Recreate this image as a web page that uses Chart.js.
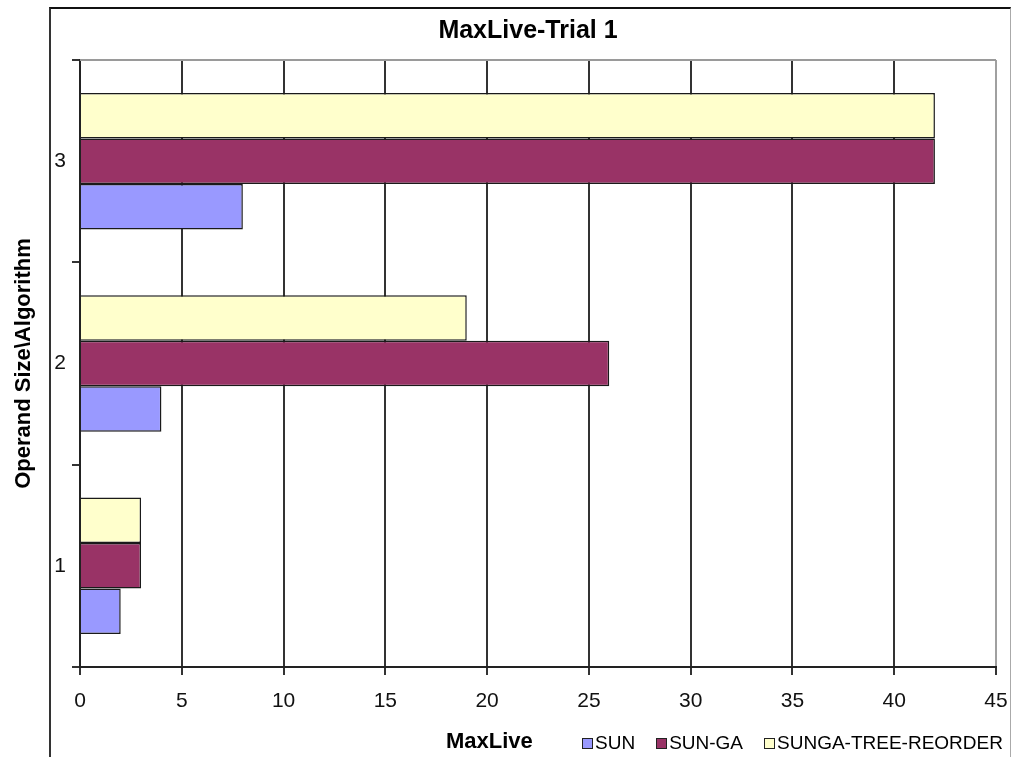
<!DOCTYPE html>
<html lang="en">
<head>
<meta charset="UTF-8">
<title>MaxLive-Trial 1</title>
<script src="https://cdn.jsdelivr.net/npm/chart.js"></script>
<style>
  body { margin: 0; background: #fff; font-family: "Liberation Sans", Arial, sans-serif; color: #000; }
  .wrap { position: relative; width: 1011px; height: 757px; overflow: hidden; }
  .frame { position: absolute; left: 49px; top: 7px; width: 959px; height: 800px;
           border-left: 2px solid #333; border-top: 2px solid #111; border-right: 1px solid #aaa; }
  #chart { position: absolute; left: 0; top: 0; }
  .title { position: absolute; left: 0; top: 14px; width: 1056px; text-align: center;
           font-weight: bold; font-size: 25px; line-height: 30px; }
  .xtitle { position: absolute; left: 446px; top: 729px; font-weight: bold; font-size: 22px; line-height: 24px; }
  .legend { position: absolute; left: 582px; top: 731px; display: flex; align-items: center;
            font-size: 19px; line-height: 24px; white-space: nowrap; width: max-content; }
  .legend span.item { display: flex; align-items: center; margin-right: 21px; }
  .legend span.box { width: 9px; height: 9px; border: 1px solid #222; margin-right: 2px; flex: none; }
</style>
</head>
<body>
<div class="wrap">
  <div class="frame"></div>
  <canvas id="chart" width="1011" height="757"></canvas>
  <div class="title">MaxLive-Trial 1</div>
  <div class="xtitle">MaxLive</div>
  <div class="legend" id="legend"></div>
</div>

<script>
  // categories listed top to bottom
  const categories = ['3', '2', '1'];
  const seriesNames = ['SUN', 'SUN-GA', 'SUNGA-TREE-REORDER'];
  const seriesColors = ['#9999FF', '#993366', '#FFFFCC'];
  const sunValues = [8, 4, 2];
  const sunGaValues = [42, 26, 3];
  const treeReorderValues = [42, 19, 3];
  const xMin = 0;
  const xMax = 45;
  const xStep = 5;

  const seriesValues = [sunValues, sunGaValues, treeReorderValues];

  // legend in series order
  const legend = document.getElementById('legend');
  seriesNames.forEach(function (name, i) {
    const item = document.createElement('span');
    item.className = 'item';
    const box = document.createElement('span');
    box.className = 'box';
    box.style.background = seriesColors[i];
    item.appendChild(box);
    item.appendChild(document.createTextNode(name));
    legend.appendChild(item);
  });

  // gray line along the top of the plot area
  const plotBorder = {
    id: 'plotBorder',
    beforeDatasetsDraw(chart) {
      const { ctx, chartArea: a } = chart;
      ctx.save();
      ctx.strokeStyle = '#9a9a9a';
      ctx.lineWidth = 2;
      ctx.beginPath();
      ctx.moveTo(a.left, a.top);
      ctx.lineTo(a.right, a.top);
      ctx.stroke();
      ctx.restore();
    }
  };

  // last series first so it sits on top inside each group
  const datasets = [2, 1, 0].map(function (i) {
    return {
      label: seriesNames[i],
      data: seriesValues[i],
      backgroundColor: seriesColors[i],
      borderColor: '#1a1a1a',
      borderWidth: 1.5,
      categoryPercentage: 0.675,
      barPercentage: 1
    };
  });

  const tickFont = { family: '"Liberation Sans", Arial, sans-serif', size: 21 };

  new Chart(document.getElementById('chart'), {
    type: 'bar',
    data: { labels: categories, datasets: datasets },
    plugins: [plotBorder],
    options: {
      indexAxis: 'y',
      responsive: false,
      animation: false,
      layout: { padding: { top: 60, right: 0, bottom: 0, left: 0 } },
      plugins: {
        legend: { display: false },
        title: { display: false },
        tooltip: { enabled: false }
      },
      scales: {
        x: {
          type: 'linear',
          min: xMin,
          max: xMax,
          afterFit(scale) {
            scale.height = 90;
            scale.paddingRight = 15;
          },
          ticks: { stepSize: xStep, color: '#111', font: tickFont, padding: 14 },
          grid: {
            color: ctx => (ctx.tick && ctx.tick.value === xMax) ? '#a0a0a0' : '#333',
            tickColor: '#333',
            lineWidth: 2,
            tickLength: 8
          },
          border: { color: '#222', width: 2 }
        },
        y: {
          afterFit(scale) { scale.width = 80; },
          title: {
            display: true,
            text: 'Operand Size\\Algorithm',
            color: '#000',
            font: { family: '"Liberation Sans", Arial, sans-serif', size: 22, weight: 'bold' },
            padding: { top: 11, bottom: 0 }
          },
          ticks: { color: '#111', font: tickFont, padding: 6 },
          grid: {
            drawOnChartArea: false,
            color: '#333',
            lineWidth: 2,
            tickLength: 8
          },
          border: { color: '#222', width: 2 }
        }
      }
    }
  });
</script>
</body>
</html>
